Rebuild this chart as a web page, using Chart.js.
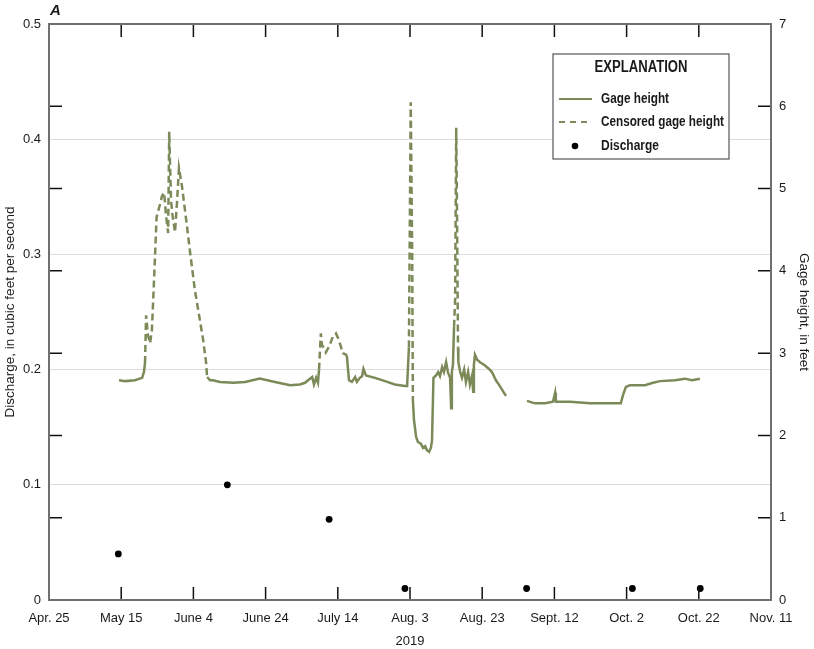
<!DOCTYPE html>
<html>
<head>
<meta charset="utf-8">
<script src="https://cdn.jsdelivr.net/npm/chart.js@4.4.0/dist/chart.umd.min.js"></script>
<style>
  html, body { margin: 0; padding: 0; background: #fff; }
  #chart { display: block; }
</style>
</head>
<body>
<canvas id="chart" width="814" height="649"></canvas>
<script>
// x values are days after April 25, 2019
const xTickLabels = ["Apr. 25", "May 15", "June 4", "June 24", "July 14", "Aug. 3",
  "Aug. 23", "Sept. 12", "Oct. 2", "Oct. 22", "Nov. 11"];

// Gage height (feet), null marks a break in the record
const gageDay = [
  19.4, 21.1, 23.8, 25.8, 26.3, 26.6, null,
  43.8, 44.6, 45.4, 47.4, 51.0, 54.3, 58.4, 62.6, 66.8, 69.5, 70.9, 72.9, 73.4, 74.0, 74.5, 74.8, null,
  82.5, 83.1, 83.9, 84.8, 85.3, 86.1, 86.7, 87.1, 87.8, 90.3, 93.1, 95.8, 98.6, 99.2, 99.7, null,
  100.8, 101.1, 101.7, 102.2, 103.0, 103.6, 104.2, 104.7, 105.3, 105.8, 106.1, 106.5, 107.2, 107.8,
  108.3, 108.9, 109.4, 110.0, 110.5, 111.1, 111.4, 111.6, 111.9, 112.2, null,
  113.3, 113.4, 113.9, 114.4, 115.0, 115.5, 116.1, 116.6, 117.2, 117.5, 117.7, 118.0, 118.6, 119.4,
  120.5, 121.6, 122.7, 123.8, 124.9, 126.0, 126.6, null,
  132.4, 134.6, 137.4, 139.6, 140.2, 140.4, 144.3, 149.9, 155.4, 158.4, 159.0, 159.8, 160.9, 165.1,
  167.3, 169.3, 173.4, 176.2, 178.1, 180.3
];
const gageFt = [
  2.67, 2.66, 2.67, 2.70, 2.77, 2.88, null,
  2.71, 2.67, 2.67, 2.65, 2.64, 2.65, 2.69, 2.65, 2.61, 2.62, 2.64, 2.71, 2.62, 2.70, 2.64, 2.80, null,
  2.97, 2.67, 2.65, 2.71, 2.65, 2.70, 2.72, 2.81, 2.73, 2.70, 2.66, 2.62, 2.60, 2.60, 3.07, null,
  2.43, 2.19, 1.98, 1.92, 1.90, 1.85, 1.87, 1.82, 1.80, 1.85, 1.94, 2.70, 2.73, 2.77,
  2.72, 2.83, 2.77, 2.89, 2.77, 2.70, 2.33, 2.77, 2.86, 3.32, null,
  3.07, 2.89, 2.77, 2.70, 2.80, 2.65, 2.77, 2.62, 2.73, 2.53, 2.86, 2.98, 2.92, 2.89,
  2.86, 2.82, 2.77, 2.67, 2.60, 2.52, 2.48, null,
  2.42, 2.39, 2.39, 2.41, 2.52, 2.41, 2.41, 2.39, 2.39, 2.39, 2.49, 2.59, 2.61, 2.61,
  2.64, 2.66, 2.67, 2.69, 2.67, 2.69
];

// Censored gage height (feet)
const censoredDay = [
  26.6, 26.9, 27.4, 28.0, 28.5, 29.1, 29.8, 30.7, 31.3, 31.9, 32.4, 33.0, 33.3, 33.8, 34.2, 34.9,
  35.5, 36.0, 36.8, 38.0, 39.1, 40.4, 41.8, 42.7, 43.5, 43.8, null,
  74.8, 75.3, 75.6, 76.2, 76.7, 77.8, 78.7, 79.5, 80.3, 81.4, 82.3, 82.5, null,
  99.7, 100.2, 100.6, 100.8, null,
  112.2, 112.5, 112.8, 113.0, 113.3
];
const censoredFt = [
  2.88, 3.46, 3.22, 3.12, 3.28, 3.89, 4.65, 4.80, 4.91, 4.95, 4.68, 4.46, 5.69, 4.86, 4.68, 4.47,
  4.86, 5.25, 5.04, 4.62, 4.22, 3.77, 3.40, 3.16, 2.89, 2.71, null,
  2.80, 3.24, 3.10, 3.06, 3.01, 3.10, 3.21, 3.24, 3.16, 3.00, 2.98, 2.97, null,
  3.07, 6.05, 4.25, 2.43, null,
  3.32, 3.65, 5.74, 4.86, 3.07
];

// Discharge measurements (cubic feet per second)
const dischargeDay = [19.2, 49.4, 77.6, 98.6, 132.3, 161.6, 180.4];
const dischargeCfs = [0.04, 0.10, 0.07, 0.01, 0.01, 0.01, 0.01];

const OLIVE = "#7b8a58";
const FONT = "'Liberation Sans', Arial, sans-serif";
const TXT = "#1a1a1a";

function pts(xs, ys) {
  return xs.map((x, i) => ({ x: x === null ? NaN : x, y: ys[i] }));
}

// frame, inward ticks, panel letter and explanation box
const framePlugin = {
  id: "frameTicks",
  afterDraw(chart) {
    const { ctx, chartArea: { left, right, top, bottom }, scales } = chart;
    ctx.save();
    // inward tick marks
    ctx.strokeStyle = "#111";
    ctx.lineWidth = 1.5;
    ctx.beginPath();
    scales.x.ticks.forEach((t) => {
      const px = scales.x.getPixelForValue(t.value);
      if (px <= left + 1 || px >= right - 1) return;
      ctx.moveTo(px, bottom); ctx.lineTo(px, bottom - 13);
      ctx.moveTo(px, top); ctx.lineTo(px, top + 13);
    });
    scales.y2.ticks.forEach((t) => {
      const py = scales.y2.getPixelForValue(t.value);
      if (py <= top + 1 || py >= bottom - 1) return;
      ctx.moveTo(left, py); ctx.lineTo(left + 13, py);
      ctx.moveTo(right, py); ctx.lineTo(right - 13, py);
    });
    ctx.stroke();
    // frame
    ctx.strokeStyle = "#707070";
    ctx.lineWidth = 2;
    ctx.strokeRect(left, top, right - left, bottom - top);

    // panel letter
    ctx.fillStyle = TXT;
    ctx.font = "italic bold 15px " + FONT;
    ctx.textBaseline = "alphabetic";
    ctx.textAlign = "left";
    ctx.fillText("A", 50, 15);

    // explanation box
    const bx = 553, by = 54, bw = 176, bh = 105;
    ctx.fillStyle = "#fff";
    ctx.fillRect(bx, by, bw, bh);
    ctx.strokeStyle = "#555";
    ctx.lineWidth = 1.2;
    ctx.strokeRect(bx, by, bw, bh);
    ctx.fillStyle = TXT;
    ctx.font = "bold 16px " + FONT;
    ctx.textAlign = "center";
    ctx.textBaseline = "middle";
    ctx.fillText("EXPLANATION", 641, 68, 93);
    ctx.font = "bold 14.5px " + FONT;
    ctx.textAlign = "left";
    const rows = [
      { label: "Gage height", y: 99, kind: "solid", w: 68 },
      { label: "Censored gage height", y: 122, kind: "dash", w: 123 },
      { label: "Discharge", y: 146, kind: "dot", w: 58 }
    ];
    rows.forEach((r) => {
      ctx.strokeStyle = OLIVE;
      ctx.lineWidth = 2;
      if (r.kind === "solid" || r.kind === "dash") {
        ctx.setLineDash(r.kind === "dash" ? [6, 5] : []);
        ctx.beginPath();
        ctx.moveTo(559, r.y); ctx.lineTo(592, r.y);
        ctx.stroke();
        ctx.setLineDash([]);
      } else {
        ctx.fillStyle = "#000";
        ctx.beginPath();
        ctx.arc(575, r.y, 3.3, 0, Math.PI * 2);
        ctx.fill();
      }
      ctx.fillStyle = TXT;
      ctx.fillText(r.label, 601, r.y, r.w);
    });
    ctx.restore();
  }
};

const ctx = document.getElementById("chart").getContext("2d");
new Chart(ctx, {
  type: "line",
  data: {
    datasets: [
      {
        label: "Discharge",
        type: "scatter",
        data: pts(dischargeDay, dischargeCfs),
        yAxisID: "y",
        pointRadius: 3.4,
        pointBackgroundColor: "#000",
        pointBorderWidth: 0,
        order: 0
      },
      {
        label: "Gage height",
        data: pts(gageDay, gageFt),
        yAxisID: "y2",
        borderColor: OLIVE,
        borderWidth: 2.5,
        pointRadius: 0,
        tension: 0,
        spanGaps: false,
        order: 1
      },
      {
        label: "Censored gage height",
        data: pts(censoredDay, censoredFt),
        yAxisID: "y2",
        borderColor: OLIVE,
        borderWidth: 2.5,
        borderDash: [7, 4],
        pointRadius: 0,
        tension: 0,
        spanGaps: false,
        order: 2
      }
    ]
  },
  options: {
    responsive: false,
    animation: false,
    layout: { padding: { top: 24, left: 0, right: 0, bottom: 0 } },
    plugins: { legend: { display: false }, tooltip: { enabled: false } },
    scales: {
      x: {
        type: "linear",
        min: 0, max: 200,
        grid: { display: false, drawTicks: false },
        border: { display: false },
        ticks: {
          stepSize: 20,
          padding: 11,
          color: TXT,
          font: { family: FONT, size: 13 },
          maxRotation: 0,
          callback: (v) => xTickLabels[Math.round(v / 20)]
        },
        title: { display: true, text: "2019", color: TXT, font: { family: FONT, size: 13 }, padding: { top: 1, bottom: 0 } },
        afterFit: (s) => { s.height = 49; }
      },
      y: {
        position: "left",
        min: 0, max: 0.5,
        grid: { color: "#dcdcdc", lineWidth: 1, drawTicks: false },
        border: { display: false },
        ticks: {
          stepSize: 0.1,
          padding: 8,
          color: TXT,
          font: { family: FONT, size: 13 },
          callback: (v) => (v === 0 ? "0" : v.toFixed(1))
        },
        title: { display: true, text: "Discharge, in cubic feet per second", color: TXT, font: { family: FONT, size: 13.5 }, padding: { top: 2, bottom: 0 } },
        afterFit: (s) => { s.width = 49; }
      },
      y2: {
        position: "right",
        min: 0, max: 7,
        grid: { display: false, drawTicks: false },
        border: { display: false },
        ticks: {
          stepSize: 1,
          padding: 8,
          color: TXT,
          font: { family: FONT, size: 13 }
        },
        title: { display: true, text: "Gage height, in feet", color: TXT, font: { family: FONT, size: 13.5 }, padding: { top: 2, bottom: 0 } },
        afterFit: (s) => { s.width = 43; }
      }
    }
  },
  plugins: [framePlugin]
});
</script>
</body>
</html>
